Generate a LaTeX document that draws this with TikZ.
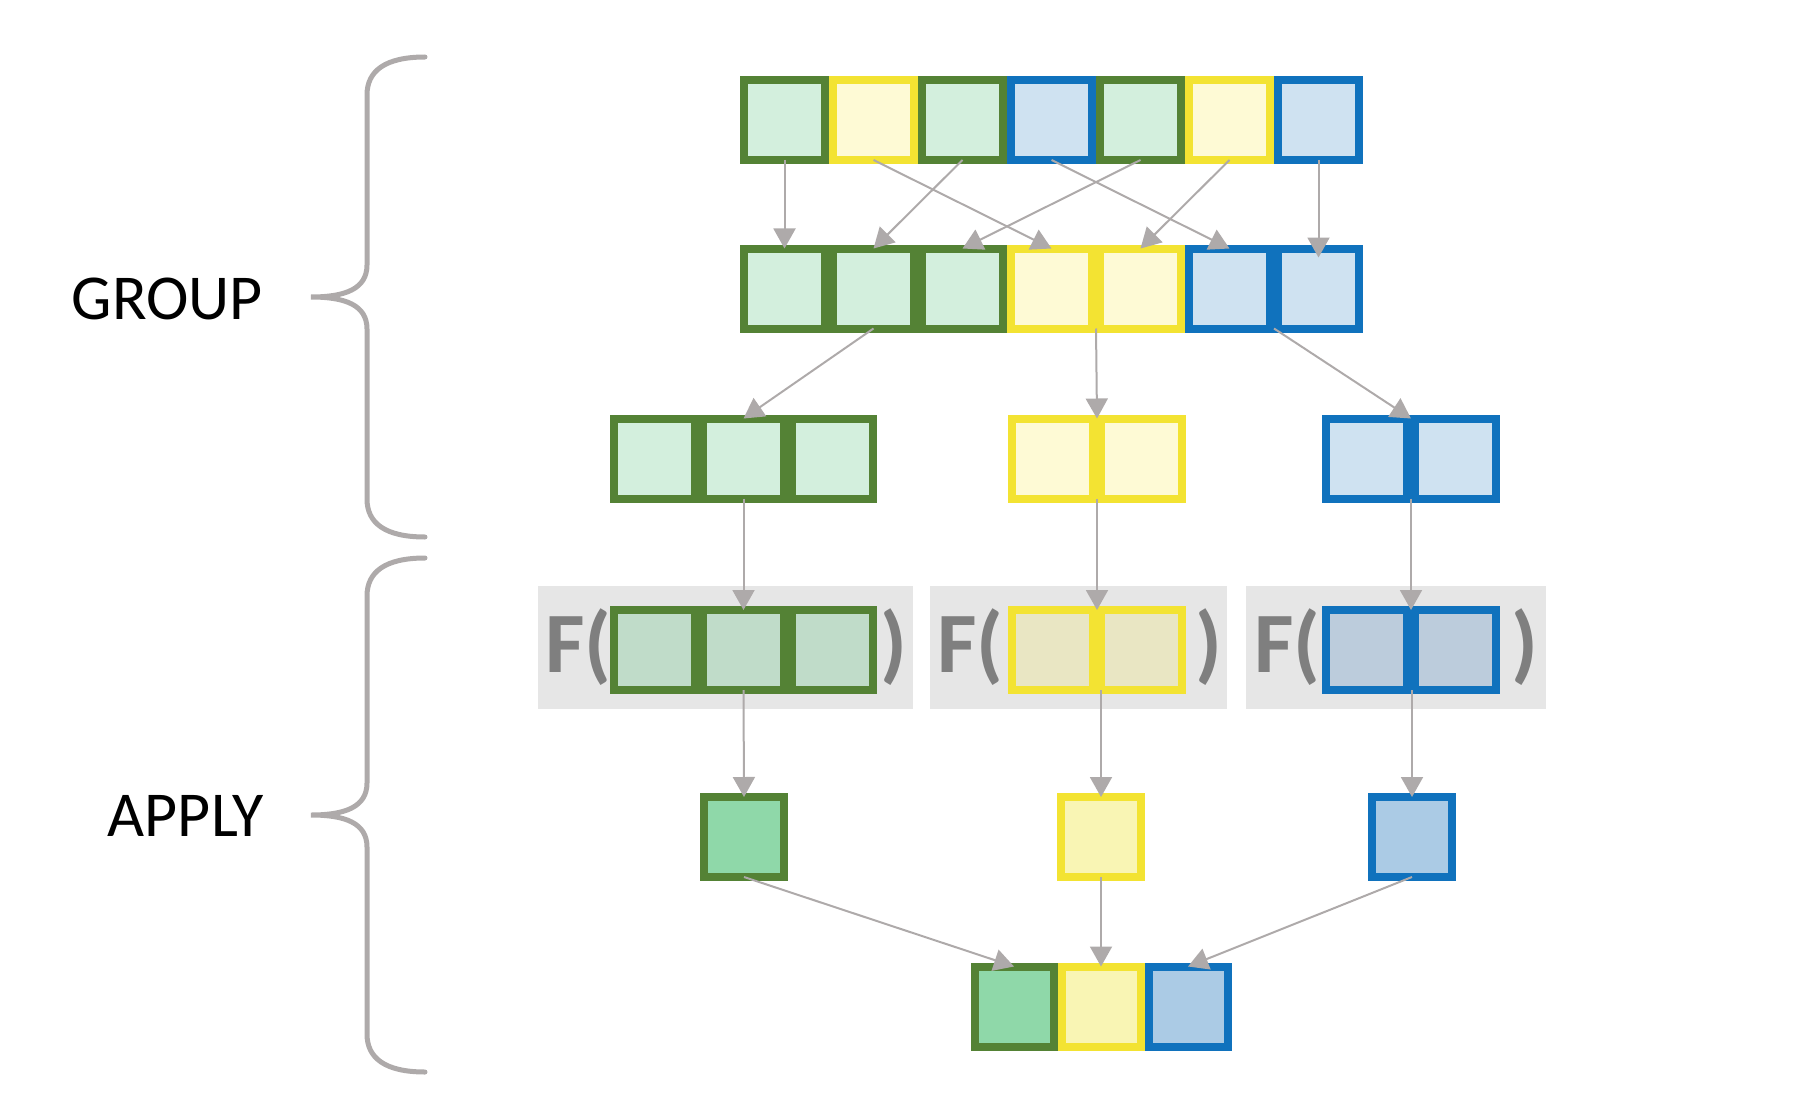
\documentclass[tikz,border=0pt]{standalone}
\usepackage{fontspec}
\setmainfont{Carlito}
\usetikzlibrary{arrows.meta,calc}

\definecolor{grnline}{HTML}{548235}
\definecolor{grnfill}{HTML}{D3EFDD}
\definecolor{grnfillF}{HTML}{C0DCC9}
\definecolor{grnfillR}{HTML}{8FD8A9}
\definecolor{ylwline}{HTML}{F3E332}
\definecolor{ylwfill}{HTML}{FEFAD5}
\definecolor{ylwfillF}{HTML}{E9E6C3}
\definecolor{ylwfillR}{HTML}{F9F5B4}
\definecolor{bluline}{HTML}{1072BD}
\definecolor{blufill}{HTML}{CFE2F1}
\definecolor{blufillF}{HTML}{BCCCDC}
\definecolor{blufillR}{HTML}{ABCBE5}
\definecolor{linkgray}{HTML}{AEAAAA}
\definecolor{boxgray}{HTML}{E6E6E6}
\definecolor{textgray}{HTML}{7F7F7F}

\tikzstyle{cell}=[draw, line width=8pt, minimum width=81pt, minimum height=80pt, inner sep=0pt, outer sep=0pt]
\tikzstyle{gcell}=[cell, draw=grnline, fill=grnfill]
\tikzstyle{ycell}=[cell, draw=ylwline, fill=ylwfill]
\tikzstyle{bcell}=[cell, draw=bluline, fill=blufill]
\tikzstyle{link}=[linkgray, line width=2pt, -{Triangle[length=20pt, width=22pt]}]
\tikzstyle{bracegray}=[linkgray, line width=5pt, line cap=round]
\tikzstyle{fbox}=[fill=boxgray, inner sep=0pt, minimum height=123pt]
\tikzstyle{ftext}=[text=textgray, inner sep=0pt, font=\bfseries\fontsize{86}{90}\selectfont]
\tikzstyle{steplabel}=[inner sep=0pt, anchor=base east, font=\fontsize{64}{70}\selectfont]

% #1 top end, #2 bottom end (y grows downwards)
\newcommand{\drawgroupbrace}[2]{
  \pgfmathsetmacro{\bmid}{(#1+#2)/2}
  \draw[bracegray] (425,#1) .. controls (385,#1) and (367,#1+14) .. (367,#1+38)
    -- (367,\bmid-32) .. controls (367,\bmid-8) and (345,\bmid) .. (311,\bmid)
    .. controls (345,\bmid) and (367,\bmid+8) .. (367,\bmid+32)
    -- (367,#2-38) .. controls (367,#2-14) and (385,#2) .. (425,#2);
}

\begin{document}
\begin{tikzpicture}[x=1pt, y=-1pt]
  \useasboundingbox (0,0) rectangle (1812,1102);

  % braces and labels
  \drawgroupbrace{57}{537}
  \drawgroupbrace{558}{1072}
  \node[steplabel] (lgroup) at (263,319) {GROUP};
  \node[steplabel] (lapply) at (264,836) {APPLY};

  % input row
  \node[gcell] (a1) at (784.5,120) {};
  \node[ycell] (a2) at (873.5,120) {};
  \node[gcell] (a3) at (962.5,120) {};
  \node[bcell] (a4) at (1051.5,120) {};
  \node[gcell] (a5) at (1140.5,120) {};
  \node[ycell] (a6) at (1229.5,120) {};
  \node[bcell] (a7) at (1318.5,120) {};

  % sorted row
  \node[gcell] (b1) at (784.5,288.5) {};
  \node[gcell] (b2) at (873.5,288.5) {};
  \node[gcell] (b3) at (962.5,288.5) {};
  \node[ycell] (b4) at (1051.5,288.5) {};
  \node[ycell] (b5) at (1140.5,288.5) {};
  \node[bcell] (b6) at (1229.5,288.5) {};
  \node[bcell] (b7) at (1318.5,288.5) {};

  % split groups
  \node[gcell] (c1) at (654.5,458.5) {};
  \node[gcell] (c2) at (743.5,458.5) {};
  \node[gcell] (c3) at (832.5,458.5) {};
  \node[ycell] (c4) at (1052.5,458.5) {};
  \node[ycell] (c5) at (1141.5,458.5) {};
  \node[bcell] (c6) at (1366.5,458.5) {};
  \node[bcell] (c7) at (1455.5,458.5) {};

  % function boxes
  \node[fbox, minimum width=375pt] (pg) at (725.5,647.5) {};
  \node[fbox, minimum width=297pt] (py) at (1078.5,647.5) {};
  \node[fbox, minimum width=300pt] (pb) at (1396,647.5) {};
  \node[ftext, anchor=base west] (fg) at (545,672) {F(};
  \node[ftext, anchor=base east] (fgc) at (907,672) {)};
  \node[ftext, anchor=base west] (fy) at (937,672) {F(};
  \node[ftext, anchor=base east] (fyc) at (1222,672) {)};
  \node[ftext, anchor=base west] (fb) at (1254,672) {F(};
  \node[ftext, anchor=base east] (fbc) at (1538,672) {)};
  \node[gcell, fill=grnfillF] (d1) at (654.5,650) {};
  \node[gcell, fill=grnfillF] (d2) at (743.5,650) {};
  \node[gcell, fill=grnfillF] (d3) at (832.5,650) {};
  \node[ycell, fill=ylwfillF] (d4) at (1052.5,650) {};
  \node[ycell, fill=ylwfillF] (d5) at (1141.5,650) {};
  \node[bcell, fill=blufillF] (d6) at (1366.5,650) {};
  \node[bcell, fill=blufillF] (d7) at (1455.5,650) {};

  % results
  \node[gcell, fill=grnfillR, minimum width=80pt] (e1) at (744,837) {};
  \node[ycell, fill=ylwfillR, minimum width=80pt] (e2) at (1101,837) {};
  \node[bcell, fill=blufillR, minimum width=80pt] (e3) at (1412,837) {};
  \node[gcell, fill=grnfillR, minimum width=79pt] (f1) at (1014,1006.5) {};
  \node[ycell, fill=ylwfillR, minimum width=79pt] (f2) at (1101,1006.5) {};
  \node[bcell, fill=blufillR, minimum width=79pt] (f3) at (1188,1006.5) {};

  % arrows
  \draw[link] (a1.south) -- (b1.north);
  \draw[link] (a2.south) -- (b4.north);
  \draw[link] (a3.south) -- (b2.north);
  \draw[link] (a4.south) -- (b6.north);
  \draw[link] (a5.south) -- (b3.north);
  \draw[link] (a6.south) -- (b5.north);
  \draw[link] (a7.south) -- ($(b7.north)+(0,9)$);
  \draw[link] (b2.south) -- (c2.north);
  \draw[link] ($(b4.south)!.5!(b5.south)$) -- ($(c4.north)!.5!(c5.north)$);
  \draw[link] ($(b6.south)!.5!(b7.south)$) -- ($(c6.north)!.5!(c7.north)$);
  \draw[link] (c2.south) -- (d2.north);
  \draw[link] ($(c4.south)!.5!(c5.south)$) -- ($(d4.north)!.5!(d5.north)$);
  \draw[link] ($(c6.south)!.5!(c7.south)$) -- ($(d6.north)!.5!(d7.north)$);
  \draw[link] (d2.south) -- (e1.north);
  \draw[link] (e2.north |- d4.south) -- (e2.north);
  \draw[link] (e3.north |- d6.south) -- (e3.north);
  \draw[link] (e1.south) -- (f1.north);
  \draw[link] (e2.south) -- (f2.north);
  \draw[link] (e3.south) -- (f3.north);
\end{tikzpicture}
\end{document}
